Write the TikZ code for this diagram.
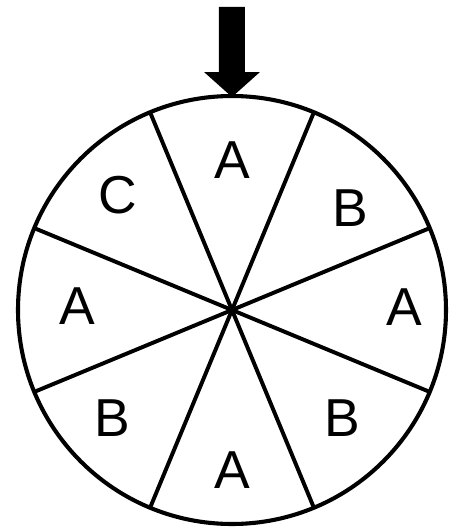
\documentclass[tikz,border=0pt]{standalone}
\usepackage{fontspec}
\setmainfont{Liberation Sans}
\usetikzlibrary{positioning}

\begin{document}
\begin{tikzpicture}[
        x=0.025cm, y=0.025cm,
        every node/.style={font=\fontsize{38}{40}\selectfont},
        rim/.style={line width=2.9pt},
        spoke/.style={line width=2.8pt}
    ]
    \useasboundingbox (-232,-217) rectangle (219,310);
%
    % Wheel
    \coordinate (c) at (0,0);
    \draw[rim] (c) circle (214);
    \foreach \a in {22.5, 67.5, 112.5, 157.5} {
        \draw[spoke] (c) -- (\a:214);
        \draw[spoke] (c) -- (\a+180:214);
    }
%
    % Labels
    \node (top) at (0,150) {A};
    \node (ne) at (118,102) {B};
    \node (east) at (172,3) {A};
    \node (se) at (110,-108) {B};
    \node (bot) at (0,-160) {A};
    \node (sw) at (-120,-108) {B};
    \node (west) at (-155,4) {A};
    \node (nw) at (-114,115) {C};
%
    % Pointer
    \fill (-13,303) -- (13,303) -- (13,238) -- (28,238) -- (0,213)
        -- (-28,238) -- (-13,238) -- cycle;
\end{tikzpicture}
\end{document}
